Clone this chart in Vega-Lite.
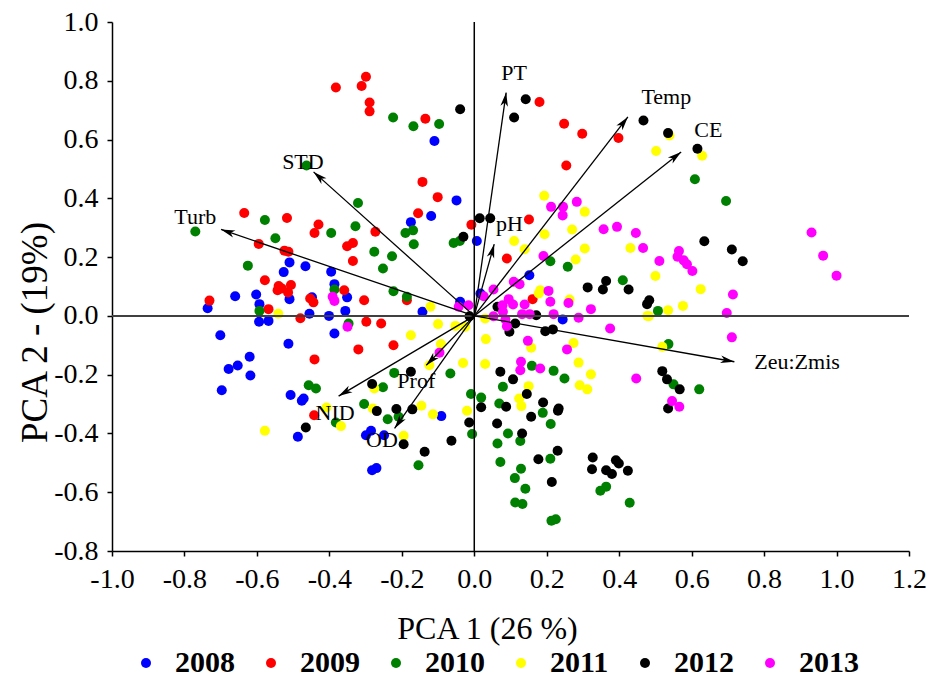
{
  "$schema": "https://vega.github.io/schema/vega-lite/v6.json",
  "width": 797,
  "height": 529,
  "autosize": {"type": "none"},
  "padding": {"left": 112, "top": 22, "right": 19, "bottom": 127},
  "background": "white",
  "config": {
    "view": {"stroke": null},
    "font": "Liberation Serif",
    "legend": {"labelFont": "Liberation Serif", "labelFontWeight": "bold", "labelFontSize": 30}
  },
  "datasets": {
    "pts": [
      {"year":"2008","x":-0.110,"y":0.595},{"year":"2008","x":-0.049,"y":0.393},{"year":"2008","x":-0.510,"y":0.182},{"year":"2008","x":-0.526,"y":0.149},{"year":"2008","x":-0.466,"y":0.169},{"year":"2008","x":-0.510,"y":0.057},{"year":"2008","x":-0.736,"y":0.026},{"year":"2008","x":-0.660,"y":0.067},{"year":"2008","x":-0.602,"y":0.073},{"year":"2008","x":-0.593,"y":0.040},{"year":"2008","x":-0.594,"y":-0.020},{"year":"2008","x":-0.568,"y":-0.017},{"year":"2008","x":-0.455,"y":0.007},{"year":"2008","x":-0.448,"y":0.063},{"year":"2008","x":-0.401,"y":0.000},{"year":"2008","x":-0.395,"y":0.150},{"year":"2008","x":-0.386,"y":0.108},{"year":"2008","x":-0.351,"y":0.063},{"year":"2008","x":-0.356,"y":0.017},{"year":"2008","x":-0.386,"y":-0.060},{"year":"2008","x":-0.701,"y":-0.066},{"year":"2008","x":-0.513,"y":-0.095},{"year":"2008","x":-0.620,"y":-0.139},{"year":"2008","x":-0.678,"y":-0.181},{"year":"2008","x":-0.653,"y":-0.169},{"year":"2008","x":-0.618,"y":-0.203},{"year":"2008","x":-0.119,"y":0.340},{"year":"2008","x":-0.175,"y":0.319},{"year":"2008","x":-0.143,"y":0.014},{"year":"2008","x":-0.039,"y":0.048},{"year":"2008","x":0.007,"y":0.255},{"year":"2008","x":0.152,"y":0.138},{"year":"2008","x":0.017,"y":0.076},{"year":"2008","x":0.244,"y":-0.012},{"year":"2008","x":-0.091,"y":-0.341},{"year":"2008","x":-0.249,"y":-0.406},{"year":"2008","x":-0.282,"y":-0.525},{"year":"2008","x":-0.270,"y":-0.518},{"year":"2008","x":-0.697,"y":-0.253},{"year":"2008","x":-0.507,"y":-0.269},{"year":"2008","x":-0.471,"y":-0.281},{"year":"2008","x":-0.476,"y":-0.289},{"year":"2008","x":-0.487,"y":-0.411},{"year":"2008","x":-0.299,"y":-0.406},{"year":"2008","x":-0.285,"y":-0.391},
      {"year":"2009","x":-0.382,"y":0.777},{"year":"2009","x":-0.299,"y":0.814},{"year":"2009","x":-0.311,"y":0.782},{"year":"2009","x":-0.289,"y":0.726},{"year":"2009","x":-0.289,"y":0.696},{"year":"2009","x":-0.135,"y":0.671},{"year":"2009","x":0.180,"y":0.728},{"year":"2009","x":0.248,"y":0.654},{"year":"2009","x":0.298,"y":0.620},{"year":"2009","x":0.398,"y":0.605},{"year":"2009","x":0.254,"y":0.512},{"year":"2009","x":-0.143,"y":0.456},{"year":"2009","x":-0.101,"y":0.404},{"year":"2009","x":-0.635,"y":0.350},{"year":"2009","x":-0.517,"y":0.333},{"year":"2009","x":-0.595,"y":0.245},{"year":"2009","x":-0.524,"y":0.222},{"year":"2009","x":-0.513,"y":0.218},{"year":"2009","x":-0.578,"y":0.121},{"year":"2009","x":-0.540,"y":0.102},{"year":"2009","x":-0.531,"y":0.093},{"year":"2009","x":-0.543,"y":0.087},{"year":"2009","x":-0.514,"y":0.080},{"year":"2009","x":-0.506,"y":0.105},{"year":"2009","x":-0.731,"y":0.052},{"year":"2009","x":-0.568,"y":0.023},{"year":"2009","x":-0.480,"y":-0.008},{"year":"2009","x":-0.453,"y":0.059},{"year":"2009","x":-0.444,"y":0.046},{"year":"2009","x":-0.359,"y":0.087},{"year":"2009","x":-0.304,"y":0.053},{"year":"2009","x":-0.298,"y":-0.020},{"year":"2009","x":-0.257,"y":-0.026},{"year":"2009","x":-0.441,"y":-0.148},{"year":"2009","x":-0.320,"y":-0.114},{"year":"2009","x":-0.430,"y":0.311},{"year":"2009","x":-0.441,"y":0.282},{"year":"2009","x":-0.351,"y":0.237},{"year":"2009","x":-0.335,"y":0.248},{"year":"2009","x":-0.273,"y":0.286},{"year":"2009","x":-0.335,"y":0.187},{"year":"2009","x":-0.155,"y":0.349},{"year":"2009","x":-0.186,"y":0.053},{"year":"2009","x":-0.223,"y":-0.100},{"year":"2009","x":-0.008,"y":0.310},{"year":"2009","x":0.151,"y":0.328},{"year":"2009","x":0.090,"y":0.195},{"year":"2009","x":0.161,"y":0.057},{"year":"2009","x":-0.442,"y":-0.338},
      {"year":"2010","x":-0.463,"y":0.512},{"year":"2010","x":-0.321,"y":0.384},{"year":"2010","x":-0.224,"y":0.675},{"year":"2010","x":-0.168,"y":0.645},{"year":"2010","x":-0.097,"y":0.653},{"year":"2010","x":0.609,"y":0.465},{"year":"2010","x":0.695,"y":0.391},{"year":"2010","x":-0.770,"y":0.287},{"year":"2010","x":-0.578,"y":0.326},{"year":"2010","x":-0.549,"y":0.264},{"year":"2010","x":-0.625,"y":0.171},{"year":"2010","x":-0.386,"y":0.090},{"year":"2010","x":-0.593,"y":0.017},{"year":"2010","x":-0.347,"y":-0.026},{"year":"2010","x":-0.395,"y":0.282},{"year":"2010","x":-0.328,"y":0.305},{"year":"2010","x":-0.276,"y":0.218},{"year":"2010","x":-0.252,"y":0.161},{"year":"2010","x":-0.190,"y":0.282},{"year":"2010","x":-0.169,"y":0.291},{"year":"2010","x":-0.167,"y":0.244},{"year":"2010","x":-0.227,"y":0.203},{"year":"2010","x":-0.223,"y":0.084},{"year":"2010","x":-0.186,"y":0.065},{"year":"2010","x":-0.221,"y":-0.194},{"year":"2010","x":-0.066,"y":-0.196},{"year":"2010","x":0.159,"y":-0.170},{"year":"2010","x":0.219,"y":-0.187},{"year":"2010","x":0.249,"y":-0.213},{"year":"2010","x":-0.057,"y":0.248},{"year":"2010","x":-0.040,"y":0.255},{"year":"2010","x":0.210,"y":0.186},{"year":"2010","x":0.258,"y":0.167},{"year":"2010","x":0.410,"y":0.121},{"year":"2010","x":0.507,"y":0.017},{"year":"2010","x":0.536,"y":-0.096},{"year":"2010","x":0.550,"y":-0.233},{"year":"2010","x":0.621,"y":-0.250},{"year":"2010","x":-0.252,"y":-0.243},{"year":"2010","x":-0.009,"y":-0.266},{"year":"2010","x":0.019,"y":-0.278},{"year":"2010","x":0.079,"y":-0.241},{"year":"2010","x":0.069,"y":-0.298},{"year":"2010","x":0.189,"y":-0.330},{"year":"2010","x":0.211,"y":-0.368},{"year":"2010","x":0.093,"y":-0.400},{"year":"2010","x":0.127,"y":-0.426},{"year":"2010","x":0.064,"y":-0.434},{"year":"2010","x":-0.006,"y":-0.402},{"year":"2010","x":-0.154,"y":-0.508},{"year":"2010","x":-0.239,"y":-0.352},{"year":"2010","x":-0.209,"y":-0.343},{"year":"2010","x":0.210,"y":-0.486},{"year":"2010","x":0.072,"y":-0.497},{"year":"2010","x":0.129,"y":-0.520},{"year":"2010","x":0.112,"y":-0.552},{"year":"2010","x":0.141,"y":-0.588},{"year":"2010","x":0.113,"y":-0.635},{"year":"2010","x":0.133,"y":-0.640},{"year":"2010","x":0.213,"y":-0.697},{"year":"2010","x":0.225,"y":-0.692},{"year":"2010","x":0.348,"y":-0.595},{"year":"2010","x":0.364,"y":-0.581},{"year":"2010","x":0.429,"y":-0.636},{"year":"2010","x":-0.457,"y":-0.236},{"year":"2010","x":-0.437,"y":-0.247},{"year":"2010","x":-0.382,"y":-0.363},{"year":"2010","x":-0.304,"y":-0.300},
      {"year":"2011","x":0.193,"y":0.409},{"year":"2011","x":0.539,"y":0.614},{"year":"2011","x":0.502,"y":0.561},{"year":"2011","x":0.629,"y":0.545},{"year":"2011","x":-0.541,"y":0.007},{"year":"2011","x":-0.121,"y":0.031},{"year":"2011","x":-0.175,"y":-0.066},{"year":"2011","x":-0.100,"y":-0.028},{"year":"2011","x":-0.052,"y":-0.034},{"year":"2011","x":-0.025,"y":-0.037},{"year":"2011","x":-0.092,"y":-0.096},{"year":"2011","x":-0.124,"y":-0.168},{"year":"2011","x":-0.031,"y":-0.160},{"year":"2011","x":0.030,"y":-0.164},{"year":"2011","x":0.032,"y":-0.079},{"year":"2011","x":0.157,"y":-0.108},{"year":"2011","x":0.274,"y":-0.092},{"year":"2011","x":0.288,"y":-0.159},{"year":"2011","x":0.322,"y":-0.199},{"year":"2011","x":0.110,"y":0.255},{"year":"2011","x":0.139,"y":0.227},{"year":"2011","x":0.305,"y":0.354},{"year":"2011","x":0.194,"y":0.278},{"year":"2011","x":0.270,"y":0.294},{"year":"2011","x":0.280,"y":0.192},{"year":"2011","x":0.305,"y":0.229},{"year":"2011","x":0.431,"y":0.231},{"year":"2011","x":0.182,"y":0.087},{"year":"2011","x":0.178,"y":0.076},{"year":"2011","x":0.263,"y":0.056},{"year":"2011","x":0.030,"y":-0.009},{"year":"2011","x":0.478,"y":0.000},{"year":"2011","x":0.500,"y":0.136},{"year":"2011","x":0.625,"y":0.091},{"year":"2011","x":0.576,"y":0.034},{"year":"2011","x":0.535,"y":0.019},{"year":"2011","x":0.482,"y":-0.001},{"year":"2011","x":0.519,"y":-0.105},{"year":"2011","x":0.291,"y":-0.236},{"year":"2011","x":0.312,"y":-0.250},{"year":"2011","x":-0.276,"y":-0.247},{"year":"2011","x":0.150,"y":-0.239},{"year":"2011","x":0.124,"y":-0.281},{"year":"2011","x":0.130,"y":-0.307},{"year":"2011","x":-0.020,"y":-0.323},{"year":"2011","x":-0.146,"y":-0.306},{"year":"2011","x":-0.114,"y":-0.335},{"year":"2011","x":-0.280,"y":-0.315},{"year":"2011","x":-0.195,"y":-0.408},{"year":"2011","x":-0.408,"y":-0.312},{"year":"2011","x":-0.578,"y":-0.391},{"year":"2011","x":-0.368,"y":-0.375},
      {"year":"2012","x":-0.039,"y":0.703},{"year":"2012","x":0.142,"y":0.737},{"year":"2012","x":0.110,"y":0.675},{"year":"2012","x":0.467,"y":0.665},{"year":"2012","x":0.535,"y":0.622},{"year":"2012","x":0.616,"y":0.569},{"year":"2012","x":-0.175,"y":-0.190},{"year":"2012","x":0.072,"y":-0.190},{"year":"2012","x":0.107,"y":-0.216},{"year":"2012","x":-0.013,"y":-0.001},{"year":"2012","x":-0.030,"y":0.269},{"year":"2012","x":0.015,"y":0.332},{"year":"2012","x":0.044,"y":0.332},{"year":"2012","x":0.171,"y":0.002},{"year":"2012","x":0.113,"y":-0.026},{"year":"2012","x":0.097,"y":-0.054},{"year":"2012","x":0.196,"y":-0.052},{"year":"2012","x":0.217,"y":-0.046},{"year":"2012","x":0.064,"y":0.031},{"year":"2012","x":0.313,"y":0.097},{"year":"2012","x":0.364,"y":0.119},{"year":"2012","x":0.355,"y":0.090},{"year":"2012","x":0.426,"y":0.090},{"year":"2012","x":0.635,"y":0.254},{"year":"2012","x":0.711,"y":0.226},{"year":"2012","x":0.741,"y":0.186},{"year":"2012","x":0.483,"y":0.053},{"year":"2012","x":0.477,"y":0.040},{"year":"2012","x":0.519,"y":-0.188},{"year":"2012","x":0.532,"y":-0.216},{"year":"2012","x":0.567,"y":-0.250},{"year":"2012","x":0.535,"y":-0.315},{"year":"2012","x":-0.282,"y":-0.232},{"year":"2012","x":0.019,"y":-0.311},{"year":"2012","x":0.145,"y":-0.266},{"year":"2012","x":0.088,"y":-0.309},{"year":"2012","x":0.190,"y":-0.295},{"year":"2012","x":0.233,"y":-0.315},{"year":"2012","x":0.231,"y":-0.323},{"year":"2012","x":0.157,"y":-0.343},{"year":"2012","x":0.063,"y":-0.366},{"year":"2012","x":0.132,"y":-0.400},{"year":"2012","x":-0.014,"y":-0.363},{"year":"2012","x":-0.063,"y":-0.425},{"year":"2012","x":-0.137,"y":-0.462},{"year":"2012","x":-0.269,"y":-0.324},{"year":"2012","x":-0.215,"y":-0.317},{"year":"2012","x":-0.171,"y":-0.318},{"year":"2012","x":-0.195,"y":-0.437},{"year":"2012","x":0.177,"y":-0.488},{"year":"2012","x":0.230,"y":-0.459},{"year":"2012","x":0.214,"y":-0.565},{"year":"2012","x":0.327,"y":-0.482},{"year":"2012","x":0.325,"y":-0.522},{"year":"2012","x":0.391,"y":-0.491},{"year":"2012","x":0.399,"y":-0.502},{"year":"2012","x":0.364,"y":-0.525},{"year":"2012","x":0.380,"y":-0.538},{"year":"2012","x":0.424,"y":-0.527},{"year":"2012","x":-0.465,"y":-0.380},
      {"year":"2013","x":0.283,"y":0.388},{"year":"2013","x":-0.391,"y":0.065},{"year":"2013","x":-0.386,"y":0.051},{"year":"2013","x":-0.350,"y":-0.037},{"year":"2013","x":-0.096,"y":-0.125},{"year":"2013","x":0.129,"y":-0.156},{"year":"2013","x":0.127,"y":-0.185},{"year":"2013","x":0.182,"y":-0.179},{"year":"2013","x":0.148,"y":-0.085},{"year":"2013","x":0.256,"y":-0.114},{"year":"2013","x":0.447,"y":-0.213},{"year":"2013","x":-0.043,"y":0.031},{"year":"2013","x":-0.016,"y":0.036},{"year":"2013","x":0.212,"y":0.371},{"year":"2013","x":0.245,"y":0.371},{"year":"2013","x":0.244,"y":0.342},{"year":"2013","x":0.191,"y":0.204},{"year":"2013","x":0.357,"y":0.295},{"year":"2013","x":0.394,"y":0.303},{"year":"2013","x":0.446,"y":0.282},{"year":"2013","x":0.466,"y":0.231},{"year":"2013","x":0.109,"y":0.116},{"year":"2013","x":0.125,"y":0.108},{"year":"2013","x":0.053,"y":0.090},{"year":"2013","x":0.026,"y":0.067},{"year":"2013","x":0.205,"y":0.085},{"year":"2013","x":0.210,"y":0.048},{"year":"2013","x":0.260,"y":0.044},{"year":"2013","x":0.095,"y":0.057},{"year":"2013","x":0.107,"y":0.039},{"year":"2013","x":0.078,"y":0.036},{"year":"2013","x":0.079,"y":0.014},{"year":"2013","x":0.053,"y":-0.001},{"year":"2013","x":0.086,"y":-0.012},{"year":"2013","x":0.090,"y":-0.035},{"year":"2013","x":0.139,"y":0.039},{"year":"2013","x":0.132,"y":0.006},{"year":"2013","x":0.153,"y":0.006},{"year":"2013","x":0.219,"y":0.006},{"year":"2013","x":0.288,"y":-0.006},{"year":"2013","x":0.322,"y":0.023},{"year":"2013","x":0.375,"y":-0.043},{"year":"2013","x":0.511,"y":0.187},{"year":"2013","x":0.565,"y":0.221},{"year":"2013","x":0.561,"y":0.201},{"year":"2013","x":0.578,"y":0.189},{"year":"2013","x":0.587,"y":0.176},{"year":"2013","x":0.602,"y":0.153},{"year":"2013","x":0.714,"y":0.073},{"year":"2013","x":0.697,"y":0.010},{"year":"2013","x":0.711,"y":-0.073},{"year":"2013","x":0.931,"y":0.284},{"year":"2013","x":0.963,"y":0.205},{"year":"2013","x":1.000,"y":0.137},{"year":"2013","x":0.546,"y":-0.290},{"year":"2013","x":0.566,"y":-0.309}
    ],
    "arrows": [
      {"var":"PT","x":0.088,"y":0.760,"lx":0.110,"ly":0.828},
      {"var":"Temp","x":0.424,"y":0.677,"lx":0.530,"ly":0.745},
      {"var":"CE","x":0.571,"y":0.558,"lx":0.646,"ly":0.631},
      {"var":"STD","x":-0.4436,"y":0.490,"lx":-0.473,"ly":0.524},
      {"var":"Turb","x":-0.699,"y":0.294,"lx":-0.770,"ly":0.337},
      {"var":"pH","x":0.055,"y":0.244,"lx":0.097,"ly":0.314},
      {"var":"Zeu:Zmis","x":0.718,"y":-0.156,"lx":0.891,"ly":-0.158},
      {"var":"Prof","x":-0.1325,"y":-0.168,"lx":-0.160,"ly":-0.222},
      {"var":"NID","x":-0.3745,"y":-0.273,"lx":-0.384,"ly":-0.332},
      {"var":"OD","x":-0.220,"y":-0.383,"lx":-0.255,"ly":-0.421}
    ]
  },
  "layer": [
    {
      "data": {"name": "pts"},
      "mark": {"type": "point", "filled": true, "opacity": 1, "size": 100, "shape": "circle", "strokeWidth": 0},
      "encoding": {
        "x": {
          "field": "x", "type": "quantitative",
          "scale": {"domain": [-1.0, 1.2], "nice": false, "zero": false},
          "axis": {
            "values": [-1.0, -0.8, -0.6, -0.4, -0.2, 0, 0.2, 0.4, 0.6, 0.8, 1.0, 1.2],
            "labelExpr": "replace(format(datum.value, '.1f'), '\u2212', '-')",
            "grid": false, "domainColor": "black", "domainWidth": 1.5, "tickColor": "black", "tickWidth": 1.5, "tickSize": 5,
            "labelFont": "Liberation Serif", "labelFontSize": 28, "labelColor": "black", "labelPadding": 9, "labelFlush": false,
            "title": "PCA 1 (26 %)", "titleFont": "Liberation Serif", "titleFontSize": 32, "titleFontWeight": "normal", "titleColor": "black",
            "titleX": 375, "titleY": 87, "titleAlign": "center", "titleBaseline": "alphabetic"
          }
        },
        "y": {
          "field": "y", "type": "quantitative",
          "scale": {"domain": [-0.8, 1.0], "nice": false, "zero": false},
          "axis": {
            "values": [-0.8, -0.6, -0.4, -0.2, 0, 0.2, 0.4, 0.6, 0.8, 1.0],
            "labelExpr": "replace(format(datum.value, '.1f'), '\u2212', '-')",
            "grid": false, "domainColor": "black", "domainWidth": 1.5, "tickColor": "black", "tickWidth": 1.5, "tickSize": 5,
            "labelFont": "Liberation Serif", "labelFontSize": 28, "labelColor": "black", "labelPadding": 9, "labelFlush": false,
            "title": "PCA 2 - (19%)", "titleFont": "Liberation Serif", "titleFontSize": 37, "titleFontWeight": "normal", "titleColor": "black",
            "titleX": -66, "titleY": 310, "titleAlign": "center", "titleBaseline": "alphabetic", "titleAngle": -90
          }
        },
        "color": {
          "field": "year", "type": "nominal",
          "scale": {"domain": ["2008", "2009", "2010", "2011", "2012", "2013"], "range": ["#0000ff", "#ff0000", "#008000", "#ffff00", "#000000", "#ff00ff"]},
          "legend": {
            "title": null, "orient": "none", "direction": "horizontal", "columns": 6,
            "legendX": 19, "legendY": 626, "padding": 0,
            "symbolType": "circle", "symbolSize": 100, "symbolStrokeWidth": 0, "symbolOpacity": 1,
            "labelFont": "Liberation Serif", "labelFontSize": 30, "labelFontWeight": "bold", "labelColor": "black",
            "labelOffset": 14, "columnPadding": 21, "labelLimit": 200
          }
        }
      }
    },
    {
      "data": {"values": [{}]},
      "mark": {"type": "rule", "color": "black", "strokeWidth": 1.5},
      "encoding": {"x": {"datum": 0}}
    },
    {
      "data": {"values": [{}]},
      "mark": {"type": "rule", "color": "#404040", "strokeWidth": 2},
      "encoding": {"y": {"datum": 0}}
    },
    {
      "data": {"name": "arrows"},
      "mark": {"type": "rule", "color": "black", "strokeWidth": 1.3},
      "encoding": {
        "x": {"field": "x", "type": "quantitative"},
        "y": {"field": "y", "type": "quantitative"},
        "x2": {"datum": 0},
        "y2": {"datum": 0}
      }
    },
    {
      "data": {"name": "arrows"},
      "transform": [{"calculate": "atan2(datum.x * 362.3, datum.y * 293.9) * 180 / PI", "as": "ang"}],
      "mark": {"type": "point", "filled": true, "opacity": 1, "color": "black", "strokeWidth": 0, "size": 640, "shape": "M0,0L-0.3,1.1L0,0.8L0.3,1.1Z"},
      "encoding": {
        "x": {"field": "x", "type": "quantitative"},
        "y": {"field": "y", "type": "quantitative"},
        "angle": {"field": "ang", "type": "quantitative", "scale": null}
      }
    },
    {
      "data": {"name": "arrows"},
      "mark": {"type": "text", "font": "Liberation Serif", "fontSize": 22, "color": "black", "align": "center", "baseline": "middle"},
      "encoding": {
        "x": {"field": "lx", "type": "quantitative"},
        "y": {"field": "ly", "type": "quantitative"},
        "text": {"field": "var", "type": "nominal"}
      }
    }
  ]
}
